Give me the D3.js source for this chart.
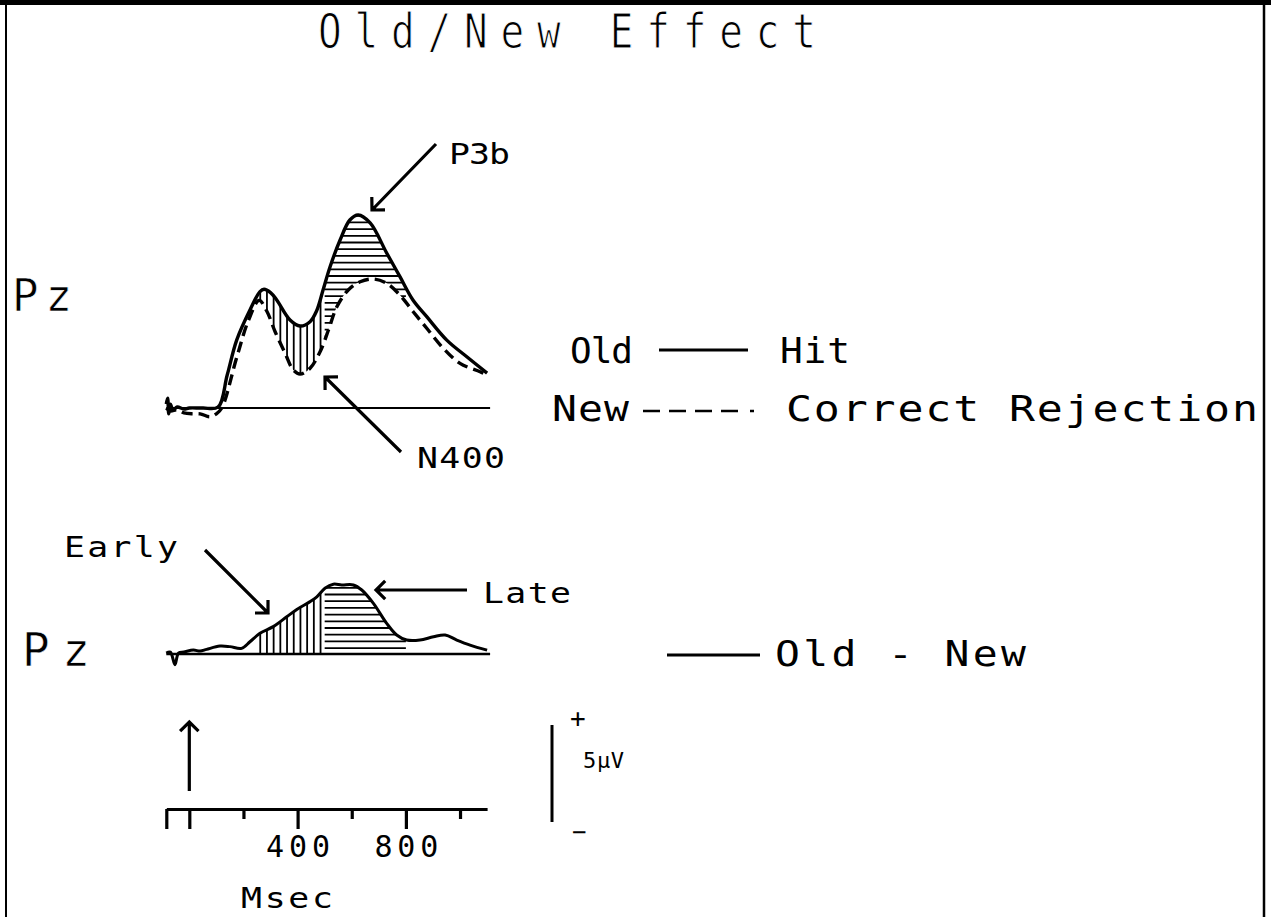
<!DOCTYPE html>
<html><head><meta charset="utf-8">
<script src="https://cdn.jsdelivr.net/npm/d3@7"></script>
<style>html,body{margin:0;padding:0;background:#fff;} svg{display:block;}</style>
</head><body>
<svg id="chart" width="1271" height="917"></svg>
<script>
// ---- data (ms, µV) ----
const hitTimes  = [-85,-80,-76,-70,-60,-45,-20,0,50,106,140,175,224,261,276,300,323,372,409,446,470,494,520,557,593,624,668,729,778,826,877,951,1025,1100];
const hitValues = [0.2,0.5,-0.3,0.2,-0.1,0.05,-0.05,0,0,0.05,1.7,3.5,5.05,6.0,6.12,5.95,5.57,4.54,4.23,4.45,5.0,6.08,7.28,8.66,9.69,9.95,9.54,7.99,6.77,5.57,4.71,3.5,2.64,1.8];
const crTimes   = [-85,-70,-45,-20,10,40,76,100,120,175,218,258,286,317,354,384,409,446,483,514,545,587,631,680,729,778,827,877,938,1000,1074,1100];
const crValues  = [0,-0.15,-0.1,-0.25,-0.3,-0.3,-0.45,-0.3,0,2.6,4.5,5.55,5.0,3.93,2.82,1.96,1.75,2.05,2.9,4.02,5.22,6.08,6.51,6.65,6.43,5.82,4.96,4.11,3.08,2.3,1.87,1.7];
const diffTimes = [-85,-70,-53,-40,-20,15,40,64,113,150,193,224,261,310,360,397,446,471,501,532,563,606,637,680,729,766,803,852,902,945,988,1037,1100];
const diffValues= [0.05,0.1,-0.55,0.05,0.1,0.2,0.15,0.24,0.41,0.38,0.29,0.63,1.07,1.41,1.92,2.3,2.7,2.95,3.39,3.6,3.56,3.56,3.3,2.61,1.58,0.98,0.72,0.72,0.89,0.98,0.72,0.46,0.2];
const earlyWindow = [262, 500];
const lateWindow  = [500, 800];
const majorTicks = [-85, 0, 400, 800];
const minorTicks = [200, 600, 1000];
const tickLabels = [400, 800];
const scaleBarUV = 5;

const svg = d3.select("#chart");
const FONT = "DejaVu Sans Mono";

const x = d3.scaleLinear().domain([-85, 1100]).range([166.3, 487.1]);
const yTop = d3.scaleLinear().domain([0, 10]).range([408, 214]);
const yBot = d3.scaleLinear().domain([0, 5]).range([654, 557]);
const yBar = d3.scaleLinear().domain([0, 5]).range([822, 725]);

const zip = (t, v) => t.map((d, i) => [d, v[i]]);
const hit = zip(hitTimes, hitValues), cr = zip(crTimes, crValues), diff = zip(diffTimes, diffValues);

// frame
svg.append("line").attr("x1",0).attr("x2",1271).attr("y1",2.5).attr("y2",2.5).attr("stroke","#000").attr("stroke-width",5);
svg.append("line").attr("x1",6).attr("x2",6).attr("y1",0).attr("y2",917).attr("stroke","#000").attr("stroke-width",2);
svg.append("line").attr("x1",1264).attr("x2",1264).attr("y1",0).attr("y2",917).attr("stroke","#000").attr("stroke-width",2.5);

function label(str, x0, x1, base, fs, sx = 1, thin = 0) {
  const t = svg.append("text")
    .attr("transform", `translate(${x0},${base}) scale(${sx},1)`)
    .attr("font-family", FONT).attr("font-size", fs).attr("fill", "#000")
    .attr("textLength", (x1 - x0) / sx).attr("lengthAdjust", "spacing")
    .text(str);
  if (thin) t.attr("stroke", "#fff").attr("stroke-width", thin);
  return t;
}
function arrow(x1, y1, x2, y2, L = 13) {
  const dx = x2 - x1, dy = y2 - y1, n = Math.hypot(dx, dy);
  const ux = -dx / n, uy = -dy / n, c = Math.SQRT1_2;
  const a1 = [x2 + L * (ux * c - uy * c), y2 + L * (ux * c + uy * c)];
  const a2 = [x2 + L * (ux * c + uy * c), y2 + L * (-ux * c + uy * c)];
  svg.append("path")
    .attr("d", `M${x1},${y1}L${x2},${y2}M${a1[0]},${a1[1]}L${x2},${y2}L${a2[0]},${a2[1]}`)
    .attr("fill", "none").attr("stroke", "#000").attr("stroke-width", 3.2)
    .attr("stroke-linecap", "butt").attr("stroke-linejoin", "miter");
}

// title
label("Old/New Effect", 318, 816, 48, 48, 0.82, 1.1);

// ---------- top panel ----------
const lineTop = d3.line().x(d => x(d[0])).y(d => yTop(d[1])).curve(d3.curveCatmullRom.alpha(0.5));
const defs = svg.append("defs");
const topAreaD = lineTop(hit) + "L" + lineTop(cr.slice().reverse()).slice(1) + "Z";
defs.append("clipPath").attr("id", "topArea").append("path").attr("d", topAreaD);
const areaBot = d3.area().x(d => x(d[0])).y0(yBot(0)).y1(d => yBot(d[1])).curve(d3.curveCatmullRom.alpha(0.5));
defs.append("clipPath").attr("id", "botArea").append("path").attr("d", areaBot(diff));

function hatch(clipId, yLo, yHi) {
  const g = svg.append("g").attr("clip-path", `url(#${clipId})`)
    .attr("stroke", "#000").attr("stroke-width", 1.8);
  const step = 6.7;
  d3.range(x(earlyWindow[0]), x(earlyWindow[1]) - 1, step).forEach(xx => {
    g.append("line").attr("x1", xx).attr("x2", xx).attr("y1", yLo).attr("y2", yHi);
  });
  d3.range(yHi - 2, yLo, step).forEach(yy => {
    g.append("line").attr("x1", x(lateWindow[0])).attr("x2", x(lateWindow[1])).attr("y1", yy).attr("y2", yy);
  });
}
hatch("topArea", yTop(0), yTop(10.5));
hatch("botArea", yBot(0), yBot(4));

svg.append("line").attr("x1", x(-85)).attr("x2", x(1100) + 3).attr("y1", yTop(0)).attr("y2", yTop(0))
  .attr("stroke", "#000").attr("stroke-width", 2);
svg.append("path").attr("d", lineTop(cr)).attr("fill", "none").attr("stroke", "#000")
  .attr("stroke-width", 3.4).attr("stroke-dasharray", "11,6");
svg.append("path").attr("d", lineTop(hit)).attr("fill", "none").attr("stroke", "#000")
  .attr("stroke-width", 3.4);

// ---------- bottom panel ----------
const lineBot = d3.line().x(d => x(d[0])).y(d => yBot(d[1])).curve(d3.curveCatmullRom.alpha(0.5));
svg.append("line").attr("x1", x(-85)).attr("x2", x(1100) + 3).attr("y1", yBot(0)).attr("y2", yBot(0))
  .attr("stroke", "#000").attr("stroke-width", 2.5);
svg.append("path").attr("d", lineBot(diff)).attr("fill", "none").attr("stroke", "#000").attr("stroke-width", 3);

// ---------- labels / annotations ----------
label("Pz", 12, 72, 311, 44, 1.0, 0.6);
label("Pz", 22, 90, 666, 46, 1.0, 0.6);
label("P3b", 449, 510, 164, 29, 1.2);
arrow(436, 144, 372, 210);
label("N400", 417, 505, 468, 29, 1.2);
arrow(401, 452, 325, 377);
label("Early", 64, 178, 557, 29, 1.2);
arrow(205, 550, 268, 613);
label("Late", 483, 571, 603, 29, 1.2);
arrow(467, 590, 376, 590);

// legend
label("Old", 570, 633, 363, 36, 1.0);
svg.append("line").attr("x1", 659).attr("x2", 748).attr("y1", 350).attr("y2", 350).attr("stroke", "#000").attr("stroke-width", 3);
label("Hit", 780, 850, 363, 36, 1.05);
label("New", 552, 629, 421, 36, 1.15);
svg.append("line").attr("x1", 643).attr("x2", 760).attr("y1", 411).attr("y2", 411).attr("stroke", "#000").attr("stroke-width", 2.6)
  .attr("stroke-dasharray", "17,9,17,9,17,9,17,12,4,100");
label("Correct Rejection", 786, 1258, 421, 36, 1.2);
svg.append("line").attr("x1", 667).attr("x2", 760).attr("y1", 655).attr("y2", 655).attr("stroke", "#000").attr("stroke-width", 3);
label("Old - New", 775, 1026, 666, 36, 1.15);

// ---------- time axis ----------
const axG = svg.append("g").attr("transform", "translate(0,809)");
axG.call(d3.axisBottom(x).tickValues(majorTicks).tickSize(20).tickSizeOuter(0)
  .tickFormat(d => tickLabels.includes(d) ? d : ""));
axG.append("g").call(d3.axisBottom(x).tickValues(minorTicks).tickSize(10).tickSizeOuter(0).tickFormat(""))
  .select(".domain").remove();
axG.selectAll(".domain").attr("stroke-width", 3);
axG.selectAll(".tick line").attr("stroke-width", 3.2);
axG.selectAll(".tick text").attr("font-family", FONT).attr("font-size", 30).attr("fill", "#000")
  .attr("y", 27).attr("textLength", d => tickLabels.includes(d) ? 64 : null).attr("lengthAdjust", "spacing");
label("Msec", 241, 333, 908, 29, 1.2);

// stimulus onset arrow
arrow(x(0), 791, x(0), 722);

// voltage scale bar
svg.append("line").attr("x1", 552).attr("x2", 552).attr("y1", yBar(0)).attr("y2", yBar(scaleBarUV))
  .attr("stroke", "#000").attr("stroke-width", 3);
label("+", 570, 588, 727, 26);
label("5µV", 583, 624, 768, 22);
label("−", 572, 588, 840, 24);
</script>
</body></html>
